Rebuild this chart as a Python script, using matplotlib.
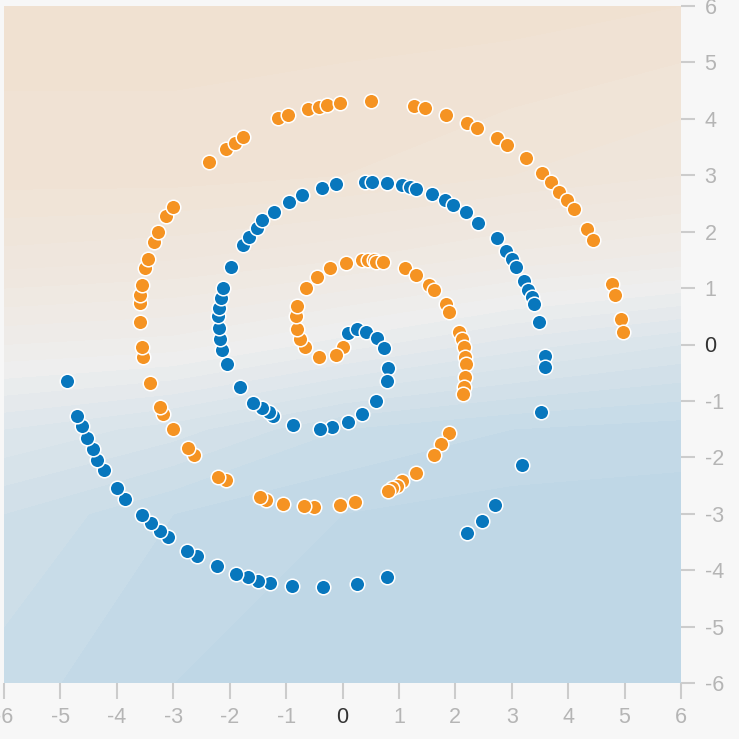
import matplotlib.pyplot as plt
import numpy as np
from matplotlib.colors import LinearSegmentedColormap

# orange class (spiral arm 1)
orange_x = [0.00, -0.11, -0.41, -0.67, -0.76, -0.81, -0.83, -0.80, -0.65, -0.46,
            -0.23, 0.07, 0.35, 0.45, 0.55, 0.60, 0.71, 1.10, 1.31, 1.54,
            1.63, 1.84, 1.88, 2.07, 2.12, 2.16, 2.18, 2.19, 2.18, 2.16,
            2.14, 1.88, 1.75, 1.63, 1.31, 1.06, 0.96, 0.87, 0.80, 0.23,
            -0.04, -0.51, -0.69, -1.06, -1.35, -1.47, -2.07, -2.21, -2.64, -2.74,
            -3.01, -3.19, -3.24, -3.42, -3.54, -3.56, -3.59, -3.59, -3.59, -3.56,
            -3.50, -3.45, -3.35, -3.27, -3.12, -3.01, -2.37, -2.07, -1.91, -1.77,
            -1.15, -0.97, -0.62, -0.41, -0.27, -0.05, 0.50, 1.27, 1.47, 1.84,
            2.21, 2.39, 2.74, 2.92, 3.26, 3.54, 3.70, 3.84, 3.98, 4.11,
            4.34, 4.44, 4.78, 4.83, 4.94, 4.97]
orange_y = [-0.04, -0.18, -0.23, -0.05, 0.09, 0.27, 0.50, 0.69, 1.01, 1.19,
            1.35, 1.45, 1.50, 1.50, 1.49, 1.47, 1.47, 1.36, 1.24, 1.06,
            0.97, 0.71, 0.58, 0.23, 0.09, -0.05, -0.23, -0.35, -0.57, -0.76,
            -0.88, -1.56, -1.77, -1.95, -2.27, -2.42, -2.51, -2.55, -2.60, -2.80,
            -2.85, -2.88, -2.87, -2.83, -2.76, -2.71, -2.41, -2.34, -1.96, -1.84,
            -1.50, -1.24, -1.10, -0.69, -0.23, -0.05, 0.39, 0.73, 0.88, 1.06,
            1.35, 1.52, 1.81, 2.00, 2.28, 2.44, 3.24, 3.47, 3.58, 3.68,
            4.02, 4.07, 4.18, 4.21, 4.25, 4.28, 4.32, 4.23, 4.19, 4.07,
            3.93, 3.84, 3.66, 3.54, 3.31, 3.04, 2.88, 2.71, 2.57, 2.41,
            2.05, 1.86, 1.08, 0.87, 0.46, 0.23]

# blue class (spiral arm 2)
blue_x = [0.09, 0.25, 0.42, 0.62, 0.74, 0.81, 0.78, 0.60, 0.35, 0.09,
          -0.18, -0.39, -0.88, -1.24, -1.31, -1.43, -1.58, -1.81, -2.04, -2.14,
          -2.18, -2.19, -2.21, -2.19, -2.16, -2.12, -1.98, -1.77, -1.66, -1.52,
          -1.42, -1.22, -0.94, -0.71, -0.37, -0.11, 0.39, 0.53, 0.78, 1.06,
          1.19, 1.31, 1.58, 1.82, 1.95, 2.19, 2.41, 2.73, 2.90, 3.01,
          3.08, 3.22, 3.29, 3.36, 3.40, 3.49, 3.59, 3.59, 3.52, 3.19,
          2.71, 2.48, 2.21, 0.78, 0.25, -0.34, -0.90, -1.29, -1.50, -1.68,
          -1.88, -2.23, -2.58, -2.76, -3.10, -3.24, -3.40, -3.56, -3.86, -4.00,
          -4.23, -4.35, -4.42, -4.53, -4.62, -4.71, -4.88]
blue_y = [0.21, 0.27, 0.23, 0.12, -0.07, -0.41, -0.64, -1.01, -1.24, -1.38,
          -1.47, -1.49, -1.43, -1.27, -1.20, -1.13, -1.03, -0.76, -0.35, -0.09,
          0.09, 0.30, 0.50, 0.65, 0.83, 1.01, 1.38, 1.77, 1.91, 2.07,
          2.21, 2.35, 2.53, 2.65, 2.78, 2.85, 2.88, 2.88, 2.87, 2.83,
          2.80, 2.76, 2.67, 2.57, 2.48, 2.34, 2.16, 1.88, 1.65, 1.52,
          1.38, 1.12, 0.97, 0.85, 0.71, 0.39, -0.21, -0.39, -1.19, -2.14,
          -2.85, -3.12, -3.35, -4.12, -4.25, -4.30, -4.28, -4.23, -4.19, -4.12,
          -4.07, -3.93, -3.75, -3.66, -3.42, -3.31, -3.17, -3.03, -2.73, -2.55,
          -2.23, -2.04, -1.86, -1.66, -1.45, -1.26, -0.65]

# background decision field (+1 orange, -1 blue)
field_x = [-6, -3, 0, 3, 6]
field_y = [-6, -3, -1.5, 0, 1.5, 3, 6]
field = [
    [-0.80, -0.95, -1.00, -1.00, -1.00],
    [-0.65, -0.85, -0.95, -1.00, -1.00],
    [-0.35, -0.50, -0.75, -0.85, -0.90],
    [0.15, 0.10, -0.10, -0.30, -0.45],
    [0.60, 0.55, 0.45, 0.30, 0.20],
    [0.90, 0.90, 0.85, 0.75, 0.65],
    [1.00, 1.00, 1.00, 1.00, 0.95],
]

ticks = [-6, -5, -4, -3, -2, -1, 0, 1, 2, 3, 4, 5, 6]

fig = plt.figure(figsize=(7.39, 7.39), dpi=100, facecolor="#f7f7f7")
ax = fig.add_axes([4 / 739, 56 / 739, 677 / 739, 677 / 739])

cmap = LinearSegmentedColormap.from_list("bg", ["#bfd7e6", "#eeeeee", "#f0e1d1"])
ax.contourf(field_x, field_y, np.array(field), levels=np.linspace(-1.05, 1.05, 22),
            cmap=cmap, vmin=-1, vmax=1)

ax.scatter(orange_x, orange_y, s=110, c="#f59322", edgecolors="white", linewidths=1.1, zorder=3)
ax.scatter(blue_x, blue_y, s=110, c="#0877bd", edgecolors="white", linewidths=1.1, zorder=3)

ax.set_xlim(-6, 6)
ax.set_ylim(-6, 6)
for s in ax.spines.values():
    s.set_visible(False)

ax.set_xticks(ticks)
ax.set_yticks(ticks)
ax.set_xticklabels([str(t) for t in ticks])
ax.set_yticklabels([str(t) for t in ticks])
ax.yaxis.tick_right()
ax.tick_params(axis="x", length=11.5, width=1.5, color="#cccccc", pad=6,
               labelsize=15.5, labelcolor="#b5b5b5")
ax.tick_params(axis="y", length=10, width=1.5, color="#cccccc", pad=7,
               labelsize=15.5, labelcolor="#b5b5b5")
for lab in ax.get_xticklabels() + ax.get_yticklabels():
    lab.set_fontfamily("Liberation Sans")
    if lab.get_text() == "0":
        lab.set_color("#333333")
for t, line in zip(ticks, ax.xaxis.get_ticklines()[::2]):
    if t == 0:
        line.set_color("#555555")
for t, line in zip(ticks, ax.yaxis.get_ticklines()[1::2]):
    if t == 0:
        line.set_color("#555555")

fig.savefig("out.png", dpi=100, facecolor=fig.get_facecolor())
